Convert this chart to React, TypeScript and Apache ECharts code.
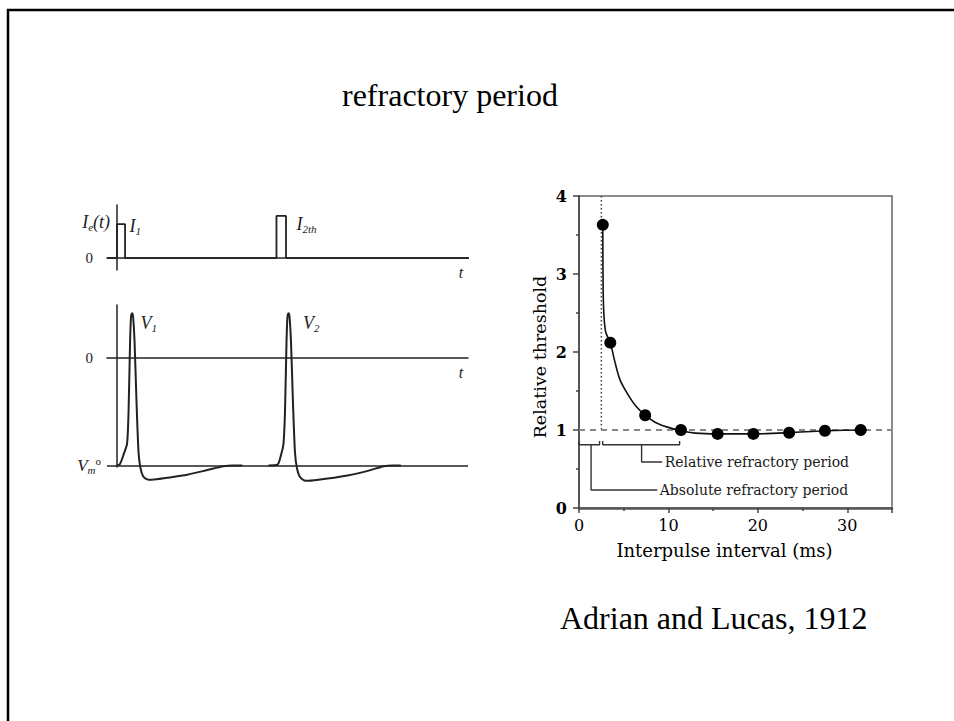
import React, { useEffect, useRef } from "react";
import * as echarts from "echarts";

// Stimulus current trace: time (ms) and current (units of I1)
const currentT = [-1, 0, 0, 0.8, 0.8, 15.9, 15.9, 16.85, 16.85, 35.1];
const currentI = [0, 0, 1, 1, 0, 0, 1.24, 1.24, 0, 0];

// Membrane potential, first action potential (ms, mV)
const spike1T = [0.0, 0.3, 0.7, 1.0, 1.15, 1.3, 1.4, 1.5, 1.6, 1.75, 1.95, 2.15, 2.35, 2.6, 3.0, 3.5, 5.0, 7.0, 9.0, 10.6, 11.5, 12.5];
const spike1V = [-70, -69, -62, -56, -35, 10, 27, 29, 27, 10, -30, -62, -72, -77, -79, -79.3, -78, -76, -73, -70.5, -70, -70];

// Membrane potential, second action potential (ms, mV)
const spike2T = [15.1, 16.0, 16.4, 16.6, 16.75, 16.9, 17.0, 17.1, 17.2, 17.35, 17.55, 17.75, 17.95, 18.2, 18.6, 19.1, 21.0, 23.0, 25.0, 26.6, 27.5, 28.3];
const spike2V = [-70, -69.5, -62, -56, -35, 10, 27, 29, 27, 10, -30, -62, -72, -77, -79.5, -80, -78.5, -76.5, -73.5, -70.5, -70, -70];

const restingV = -70;
// Where the time-axis symbol "t" sits along each time axis
const timeLabelAt = 34.3;

// Relative threshold vs. interpulse interval
const intervalMs = [2.66, 3.5, 7.4, 11.4, 15.5, 19.5, 23.5, 27.5, 31.5];
const threshold = [3.63, 2.12, 1.19, 1.0, 0.95, 0.95, 0.965, 0.99, 1.0];

// Fitted recovery curve
const fitT = [2.66, 2.7, 2.8, 3.0, 3.5, 4.0, 4.6, 5.5, 6.4, 7.4, 8.5, 9.8, 11.4, 13.0, 15.5, 19.5, 23.5, 27.5, 31.5, 32.2];
const fitY = [3.63, 2.8, 2.45, 2.25, 2.12, 1.88, 1.64, 1.45, 1.3, 1.19, 1.1, 1.04, 0.99, 0.96, 0.95, 0.95, 0.965, 0.99, 1.0, 1.0];

// Reference lines: absolute refractory limit and unit threshold
const absLimitMs = 2.5;
const unitThreshold = 1;
const xMaxMs = 35;

// Bracket annotations (ms, relative threshold)
const absBracketT = [0, 0, 2.3, 2.3];
const absBracketY = [0.86, 0.81, 0.81, 0.86];
const absLeaderT = [1.35, 1.35, 8.75];
const absLeaderY = [0.81, 0.23, 0.23];
const relBracketT = [2.65, 2.65, 11.25, 11.25];
const relBracketY = [0.86, 0.81, 0.81, 0.86];
const relLeaderT = [7.0, 7.0, 9.3];
const relLeaderY = [0.81, 0.59, 0.59];

const absLabel = "Absolute refractory period";
const relLabel = "Relative refractory period";

const pairs = (xs: number[], ys: number[]) => xs.map((x, i) => [x, ys[i]]);

const SERIF = "Liberation Serif";
const BOOK = "DejaVu Serif";
const INK = "#222";

const mathRich = {
  i: { fontFamily: SERIF, fontStyle: "italic", fontSize: 18, color: INK },
  sub: { fontFamily: SERIF, fontStyle: "italic", fontSize: 11, color: INK, padding: [10, 0, 0, 0] },
  sup: { fontFamily: SERIF, fontSize: 11, color: INK, padding: [0, 9, 9, 0] },
  n: { fontFamily: SERIF, fontSize: 15, color: INK, padding: [0, 17, 0, 0] },
  vm: { fontFamily: SERIF, fontStyle: "italic", fontSize: 17, color: INK },
};

// A data point that carries a text label but no visible symbol
const labelled = (x: number, y: number, text: string, distance: number, offset: number[], extra: any = {}) => ({
  value: [x, y],
  symbol: "circle",
  symbolSize: 1,
  itemStyle: { color: "rgba(0,0,0,0)" },
  label: {
    show: true,
    position: "right",
    distance,
    offset,
    formatter: text,
    rich: mathRich,
    ...extra,
  },
});

const withLabelAt = (data: number[][], idx: number, item: any) =>
  data.map((p, i) => (i === idx ? item : p));

// Italic "t" written just under the right end of a time axis
const timeMark = {
  silent: true,
  symbol: "circle",
  symbolSize: 1,
  itemStyle: { color: "rgba(0,0,0,0)" },
  label: {
    show: true,
    position: "bottom",
    distance: 6,
    formatter: "t",
    fontFamily: SERIF,
    fontStyle: "italic",
    fontSize: 16,
    color: INK,
  },
  data: [{ coord: [timeLabelAt, 0] }],
};

export default function App() {
  const ref = useRef<HTMLDivElement>(null);

  useEffect(() => {
    if (!ref.current) return;
    const chart = echarts.init(ref.current, null, { renderer: "svg" });

    const currentData = pairs(currentT, currentI);
    const currentLabelled = currentData.map((p, i) => {
      if (i === 3) return labelled(p[0], p[1], "{i|I}{sub|1}", 4, [0, 2]);
      if (i === 7) return labelled(p[0], p[1], "{i|I}{sub|2th}", 10, [0, 8]);
      return p;
    });

    const s1 = pairs(spike1T, spike1V);
    const s2 = pairs(spike2T, spike2V);
    const s1Peak = spike1V.indexOf(Math.max(...spike1V));
    const s2Peak = spike2V.indexOf(Math.max(...spike2V));

    const leftAxisLine = { show: true, onZero: true, lineStyle: { color: INK, width: 1.5 } };

    const thinLine = (color: string, width: number, type: any = "solid") => ({ color, width, type });

    const leaderData = (ts: number[], ys: number[], text: string) =>
      pairs(ts, ys).map((p, i) =>
        i === ts.length - 1
          ? labelled(p[0], p[1], text, 2, [0, 0], {
              fontFamily: BOOK,
              fontSize: 14,
              color: "#1a1a1a",
            })
          : p
      );

    const option: any = {
      animation: false,
      backgroundColor: "#fff",
      title: [
        {
          text: "refractory period",
          left: 342,
          top: 79,
          padding: 0,
          textStyle: { fontFamily: SERIF, fontSize: 32, fontWeight: "normal", color: "#000" },
        },
        {
          text: "Adrian and Lucas, 1912",
          left: 560,
          top: 602,
          padding: 0,
          textStyle: { fontFamily: SERIF, fontSize: 32, fontWeight: "normal", color: "#000" },
        },
      ],
      graphic: [
        { type: "line", shape: { x1: 7, y1: 10, x2: 954, y2: 10 }, style: { stroke: "#000", lineWidth: 2.5 } },
        { type: "line", shape: { x1: 8, y1: 9, x2: 8, y2: 721 }, style: { stroke: "#000", lineWidth: 2.5 } },
      ],
      grid: [
        { left: 107, top: 205, width: 361, height: 65 },
        { left: 107, top: 305, width: 361, height: 162 },
        {
          left: 579,
          top: 196,
          width: 313,
          height: 312,
          show: true,
          borderColor: "#666",
          borderWidth: 1.5,
        },
      ],
      xAxis: [
        {
          gridIndex: 0,
          type: "value",
          min: -1,
          max: 35,
          axisLine: leftAxisLine,
          axisTick: { show: false },
          axisLabel: { show: false },
          splitLine: { show: false },
        },
        {
          gridIndex: 1,
          type: "value",
          min: -1,
          max: 35,
          axisLine: leftAxisLine,
          axisTick: { show: false },
          axisLabel: { show: false },
          splitLine: { show: false },
        },
        {
          gridIndex: 2,
          type: "value",
          min: 0,
          max: xMaxMs,
          interval: 10,
          axisLine: { onZero: false, lineStyle: { color: "#555", width: 2.5 } },
          axisTick: { length: 5, lineStyle: { color: "#444", width: 1.5 } },
          minorTick: { show: true, splitNumber: 2, length: 3, lineStyle: { color: "#444", width: 1.5 } },
          axisLabel: { fontFamily: BOOK, fontSize: 16, color: "#000", margin: 9, showMaxLabel: false },
          splitLine: { show: false },
          name: "Interpulse interval (ms)",
          nameLocation: "middle",
          nameGap: 33,
          nameTextStyle: { fontFamily: BOOK, fontSize: 18, color: "#000", padding: [0, 22, 0, 0] },
        },
      ],
      yAxis: [
        {
          gridIndex: 0,
          type: "value",
          min: -0.35,
          max: 1.56,
          axisLine: leftAxisLine,
          axisTick: { show: false },
          splitLine: { show: false },
          axisLabel: {
            customValues: [0, 1.06],
            margin: -3,
            formatter: (v: number) => (v === 0 ? "{n|0}" : "{i|I}{sub|e}{i|(t)}"),
            rich: mathRich,
          },
        },
        {
          gridIndex: 1,
          type: "value",
          min: -71,
          max: 34.3,
          axisLine: leftAxisLine,
          axisTick: { show: false },
          splitLine: { show: false },
          axisLabel: {
            customValues: [0, restingV],
            margin: -3,
            formatter: (v: number) => (v === 0 ? "{n|0}" : "{vm|V}{sub|m}{sup|o}"),
            rich: mathRich,
          },
        },
        {
          gridIndex: 2,
          type: "value",
          min: 0,
          max: 4,
          interval: 1,
          axisLine: { onZero: false, lineStyle: { color: "#555", width: 2 } },
          axisTick: { length: 6, lineStyle: { color: "#444", width: 1.5 } },
          minorTick: { show: true, splitNumber: 2, length: 3, lineStyle: { color: "#444", width: 1.5 } },
          axisLabel: { fontFamily: BOOK, fontSize: 16, fontWeight: "bold", color: "#000", margin: 12 },
          splitLine: { show: false },
          name: "Relative threshold",
          nameLocation: "middle",
          nameGap: 30,
          nameTextStyle: { fontFamily: BOOK, fontSize: 17.5, color: "#000", padding: [0, 10, 0, 0] },
        },
      ],
      series: [
        {
          name: "Stimulus current",
          type: "line",
          xAxisIndex: 0,
          yAxisIndex: 0,
          data: currentLabelled,
          symbol: "none",
          showSymbol: true,
          lineStyle: thinLine(INK, 1.8),
          clip: false,
          markPoint: timeMark,
          z: 3,
        },
        {
          name: "First spike",
          type: "line",
          xAxisIndex: 1,
          yAxisIndex: 1,
          data: withLabelAt(s1, s1Peak, labelled(s1[s1Peak][0], s1[s1Peak][1], "{i|V}{sub|1}", 8, [0, 10])),
          symbol: "none",
          showSymbol: true,
          smooth: 0.25,
          lineStyle: thinLine(INK, 2),
          clip: false,
          markLine: {
            silent: true,
            symbol: ["none", "none"],
            label: { show: false },
            lineStyle: { color: INK, width: 1.5, type: "solid" },
            data: [{ yAxis: restingV }],
          },
          markPoint: timeMark,
          z: 3,
        },
        {
          name: "Second spike",
          type: "line",
          xAxisIndex: 1,
          yAxisIndex: 1,
          data: withLabelAt(s2, s2Peak, labelled(s2[s2Peak][0], s2[s2Peak][1], "{i|V}{sub|2}", 14, [0, 10])),
          symbol: "none",
          showSymbol: true,
          smooth: 0.25,
          lineStyle: thinLine(INK, 2),
          clip: false,
          z: 3,
        },
        {
          name: "Absolute limit",
          type: "line",
          xAxisIndex: 2,
          yAxisIndex: 2,
          data: [
            [absLimitMs, 4],
            [absLimitMs, unitThreshold],
          ],
          symbol: "none",
          lineStyle: thinLine("#444", 1.5, [1.5, 2.5]),
        },
        {
          name: "Unit threshold",
          type: "line",
          xAxisIndex: 2,
          yAxisIndex: 2,
          data: [
            [0, unitThreshold],
            [xMaxMs, unitThreshold],
          ],
          symbol: "none",
          lineStyle: thinLine("#888", 2, [6, 5]),
        },
        {
          name: "Recovery curve",
          type: "line",
          xAxisIndex: 2,
          yAxisIndex: 2,
          data: pairs(fitT, fitY),
          symbol: "none",
          smooth: 0.3,
          lineStyle: thinLine("#111", 1.6),
        },
        {
          name: "Measured threshold",
          type: "scatter",
          xAxisIndex: 2,
          yAxisIndex: 2,
          data: pairs(intervalMs, threshold),
          symbol: "circle",
          symbolSize: 12,
          itemStyle: { color: "#000", opacity: 1 },
          z: 5,
        },
        {
          name: "Absolute bracket",
          type: "line",
          xAxisIndex: 2,
          yAxisIndex: 2,
          data: pairs(absBracketT, absBracketY),
          symbol: "none",
          lineStyle: thinLine("#333", 1.4),
        },
        {
          name: "Relative bracket",
          type: "line",
          xAxisIndex: 2,
          yAxisIndex: 2,
          data: pairs(relBracketT, relBracketY),
          symbol: "none",
          lineStyle: thinLine("#333", 1.4),
        },
        {
          name: "Absolute leader",
          type: "line",
          xAxisIndex: 2,
          yAxisIndex: 2,
          data: leaderData(absLeaderT, absLeaderY, absLabel),
          symbol: "none",
          showSymbol: true,
          lineStyle: thinLine("#333", 1.4),
        },
        {
          name: "Relative leader",
          type: "line",
          xAxisIndex: 2,
          yAxisIndex: 2,
          data: leaderData(relLeaderT, relLeaderY, relLabel),
          symbol: "none",
          showSymbol: true,
          lineStyle: thinLine("#333", 1.4),
        },
      ],
    };

    chart.setOption(option);
    return () => chart.dispose();
  }, []);

  return (
    <div
      ref={ref}
      style={{ position: "fixed", left: 0, top: 0, width: 954, height: 721, background: "#fff" }}
    />
  );
}
